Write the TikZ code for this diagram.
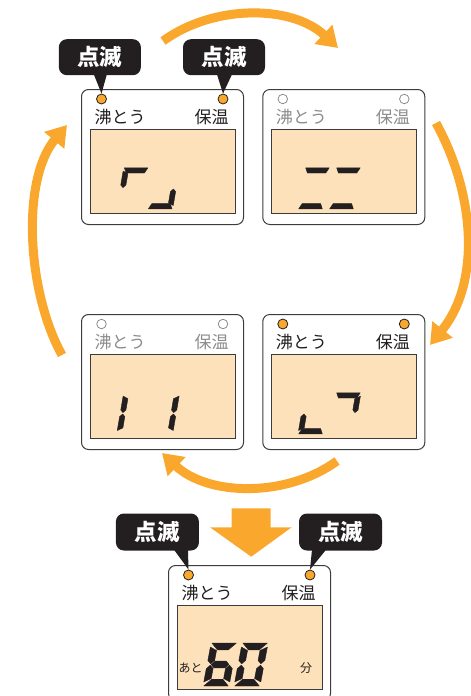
\documentclass[tikz,border=0pt]{standalone}
\usepackage{fontspec}
\newfontfamily\jp{Noto Sans CJK JP}
\usetikzlibrary{arrows.meta}
\definecolor{orng}{HTML}{F9A82D}
\definecolor{lcd}{HTML}{FDE1BA}
\definecolor{ink}{HTML}{231F20}
\definecolor{dim}{HTML}{8C8C8C}
\definecolor{frame}{HTML}{3C3C3C}
\tikzset{
 panelframe/.style={draw=frame, line width=1pt, fill=white, rounded corners=7pt, minimum width=162pt, minimum height=135pt, inner sep=0pt, anchor=north west},
 lcdbox/.style={draw=frame, line width=1pt, fill=lcd, minimum width=145pt, minimum height=84pt, inner sep=0pt, anchor=north west},
 ledon/.style={circle, draw=ink, line width=0.8pt, fill=orng, minimum size=10pt, inner sep=0pt},
 ledoff/.style={circle, draw=dim, line width=0.8pt, fill=white, minimum size=9.5pt, inner sep=0pt},
 lbl/.style={inner sep=0pt, font=\jp\fontsize{17}{17}\selectfont},
 small/.style={inner sep=0pt, text=ink, font=\jp\fontsize{12}{12}\selectfont},
 callout/.style={fill=ink, rounded corners=8pt, minimum width=82pt, minimum height=36pt, inner sep=0pt, text=white, font=\jp\bfseries\fontsize{22.5}{22.5}\selectfont},
 curvearrow/.style={draw=orng, line width=9pt, -{Triangle[width=25pt,length=20pt]}},
 segfill/.style={fill=ink, draw=ink, line width=0.4pt, line join=round},
}
% seven-segment pieces, local coordinates: u to the right, y negative upwards
% \dW width, \dH height, \dT thickness, \dG gap, \dM inner bevel
\newcommand\sega{\filldraw[segfill] ({\dG},{-\dH}) -- ({\dW-\dG},{-\dH}) -- ({\dW-\dM-\dG},{-\dH+\dT}) -- ({\dM+\dG},{-\dH+\dT}) -- cycle;}
\newcommand\segd{\filldraw[segfill] ({\dG},0) -- ({\dW-\dG},0) -- ({\dW-\dM-\dG},{-\dT}) -- ({\dM+\dG},{-\dT}) -- cycle;}
\newcommand\segg{\filldraw[segfill] ({\dT/2+\dG},{-\dH/2}) -- ({\dT+\dG},{-\dH/2-\dT/2}) -- ({\dW-\dT-\dG},{-\dH/2-\dT/2}) -- ({\dW-\dT/2-\dG},{-\dH/2}) -- ({\dW-\dT-\dG},{-\dH/2+\dT/2}) -- ({\dT+\dG},{-\dH/2+\dT/2}) -- cycle;}
\newcommand\segf{\filldraw[segfill] (0,{-\dH+\dT*0.5+\dG}) -- ({\dT},{-\dH+\dT+\dG}) -- ({\dT},{-\dH/2-\dT/2-\dG}) -- ({\dT/2},{-\dH/2-\dG}) -- (0,{-\dH/2-\dT/2-\dG}) -- cycle;}
\newcommand\sege{\filldraw[segfill] (0,{-\dH/2+\dT/2+\dG}) -- ({\dT/2},{-\dH/2+\dG}) -- ({\dT},{-\dH/2+\dT/2+\dG}) -- ({\dT},{-\dT-\dG}) -- (0,{-\dT*0.5-\dG}) -- cycle;}
\newcommand\segb{\filldraw[segfill] ({\dW},{-\dH+\dT*0.5+\dG}) -- ({\dW-\dT},{-\dH+\dT+\dG}) -- ({\dW-\dT},{-\dH/2-\dT/2-\dG}) -- ({\dW-\dT/2},{-\dH/2-\dG}) -- ({\dW},{-\dH/2-\dT/2-\dG}) -- cycle;}
\newcommand\segc{\filldraw[segfill] ({\dW},{-\dH/2+\dT/2+\dG}) -- ({\dW-\dT/2},{-\dH/2+\dG}) -- ({\dW-\dT},{-\dH/2+\dT/2+\dG}) -- ({\dW-\dT},{-\dT-\dG}) -- ({\dW},{-\dT*0.5-\dG}) -- cycle;}
\newcommand\sdigit[3]{%
 \begin{scope}[shift={(#1,#2)}, xslant=\dK]
 \foreach \segname in {#3} {\csname seg\segname\endcsname}
 \end{scope}}
\newcommand\dpanel[5]{%
 \node[panelframe] (#1) at (#2,#3) {};
 \node[lcdbox] (#1lcd) at ({#2+8.5},{#3+40}) {};
 \node[#4] (#1ledL) at ({#2+20.5},{#3+10}) {};
 \node[#4] (#1ledR) at ({#2+142},{#3+10}) {};
 \node[lbl, text=#5] (#1boil) at ({#2+39},{#3+27.7}) {沸とう};
 \node[lbl, text=#5] (#1warm) at ({#2+130.5},{#3+27.7}) {保温};
}
\begin{document}
\begin{tikzpicture}[x=1pt, y=-1pt]
\useasboundingbox (0,0) rectangle (471,696);
\clip (0,0) rectangle (471,696);

% curved arrows
\coordinate (ta) at (163,41);  \coordinate (tb) at (338,48);
\coordinate (ra) at (436,123); \coordinate (rb) at (430,345);
\coordinate (ba) at (337,461); \coordinate (bb) at (162,453);
\coordinate (la) at (62,355);  \coordinate (lb) at (67,125);
\draw[curvearrow] (ta) .. controls (214,4) and (292,5) .. (tb);
\draw[curvearrow] (ra) .. controls (475,194) and (481,282) .. (rb);
\draw[curvearrow] (ba) .. controls (286,498) and (208,496) .. (bb);
\draw[curvearrow] (la) .. controls (27,292) and (21,180) .. (lb);

% panels
\dpanel{p1}{81}{89}{ledon}{ink}
\dpanel{p2}{262.3}{89}{ledoff}{dim}
\dpanel{p3}{81}{314}{ledoff}{dim}
\dpanel{p4}{262.3}{314}{ledon}{ink}
\dpanel{p5}{168}{565}{ledon}{ink}

% small digits
\def\dW{25}\def\dH{41}\def\dT{5.2}\def\dG{0.7}\def\dK{0.17}\def\dM{2.6}
\sdigit{116.7}{208.8}{a,f}
\sdigit{147.7}{208.8}{c,d}
\sdigit{298.0}{208.8}{a,d}
\sdigit{329.0}{208.8}{a,d}
\sdigit{116.7}{433.8}{e,f}
\sdigit{147.7}{433.8}{b,c}
\sdigit{298.0}{433.8}{d,e}
\sdigit{329.0}{433.8}{a,b}

% big digits 60
\def\dW{26}\def\dH{43}\def\dT{6.8}\def\dG{0.7}\def\dK{0.19}\def\dM{6.8}
\sdigit{203}{686}{a,c,d,e,f,g}
\sdigit{234}{686}{a,b,c,d,e,f}
\node[small] (ato) at (190.5,668) {あと};
\node[small] (fun) at (306,668) {分};

% big down arrow
\fill[orng] (231.7,508.3) -- (270.7,508.3) -- (270.7,527.3) -- (291.7,527.3) -- (251.2,556.7) -- (210,527.3) -- (231.7,527.3) -- cycle;

% callouts
\node[callout] (c1) at (99.85,57.2) {点滅};
\node[callout] (c2) at (224,57.2) {点滅};
\node[callout, minimum width=83pt, minimum height=37pt] (c3) at (157.4,532) {点滅};
\node[callout, minimum width=83pt, minimum height=37pt] (c4) at (340.5,532) {点滅};
\fill[ink] ([xshift=-6pt,yshift=1pt]c1.south) -- ([xshift=7pt,yshift=1pt]c1.south) -- (p1ledL.north) -- cycle;
\fill[ink] ([xshift=-7pt,yshift=1pt]c2.south) -- ([xshift=8pt,yshift=1pt]c2.south) -- (p1ledR.north) -- cycle;
\fill[ink] ([xshift=16.6pt,yshift=1pt]c3.south) -- ([xshift=30.6pt,yshift=1pt]c3.south) -- (p5ledL.north) -- cycle;
\fill[ink] ([xshift=-28.5pt,yshift=1pt]c4.south) -- ([xshift=-14.5pt,yshift=1pt]c4.south) -- (p5ledR.north) -- cycle;
\end{tikzpicture}
\end{document}
